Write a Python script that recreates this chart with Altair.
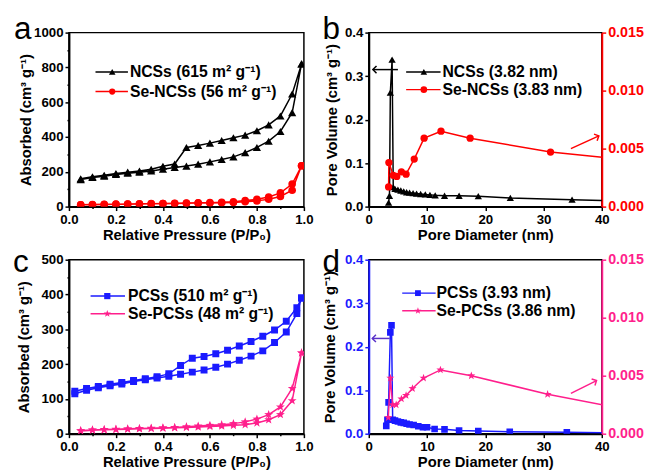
import altair as alt
import pandas as pd

FONT = "Liberation Sans"
BLACK = "#000000"
RED = "#ff0000"
BLUE = "#1a1aff"
PINK = "#ff1f8c"
PURPLE = "#5a32c8"
STAR = "M0,-1L0.235,-0.324L0.951,-0.309L0.38,0.124L0.588,0.809L0,0.4L-0.588,0.809L-0.38,0.124L-0.951,-0.309L-0.235,-0.324Z"
LEFT_HEAD = "M1,-1L0,0L1,1"
RIGHT_HEAD = "M-1,-1L0,0L-1,1"

# ---------------- panel a : N2 isotherms ----------------
P_A = [0.05, 0.10, 0.15, 0.20, 0.25, 0.30, 0.35, 0.40, 0.45, 0.50,
       0.55, 0.60, 0.65, 0.70, 0.75, 0.80, 0.85, 0.90, 0.95, 0.99]
NCS_ADS = [155, 167, 175, 185, 192, 198, 205, 215, 225, 233,
           244, 257, 271, 286, 310, 340, 376, 432, 540, 820]
NCS_DES = [160, 172, 180, 190, 198, 205, 215, 232, 245, 340,
           351, 365, 380, 396, 411, 436, 470, 521, 647, 820]
SE_NCS_ADS = [10, 11, 12, 13, 14, 15, 16, 17, 18, 19,
              20, 21, 22, 24, 28, 33, 42, 58, 94, 235]
SE_NCS_DES = [11, 12, 13, 14, 15, 16, 17, 18, 19, 21,
              22, 23, 25, 28, 35, 42, 55, 79, 130, 235]

# ---------------- panel c : N2 isotherms ----------------
P_C = [0.025, 0.075, 0.125, 0.175, 0.225, 0.275, 0.325, 0.375, 0.425, 0.475,
       0.525, 0.575, 0.625, 0.675, 0.725, 0.775, 0.825, 0.875, 0.925, 0.97, 0.99]
PCS_ADS = [115, 125, 132, 138, 143, 150, 155, 160, 165, 171,
           177, 183, 191, 200, 211, 223, 238, 262, 292, 345, 390]
PCS_DES = [122, 130, 136, 142, 147, 153, 158, 164, 172, 196,
           217, 222, 230, 240, 252, 265, 280, 298, 323, 362, 390]
SE_PCS_ADS = [8, 10, 11, 12, 13, 14, 15, 16, 17, 18,
              19, 21, 22, 24, 26, 31, 40, 55, 95, 232]
SE_PCS_DES = [9, 11, 12, 13, 14, 15, 16, 17, 18, 20,
              22, 24, 26, 29, 34, 42, 55, 77, 130, 232]

# ---------------- panel b : pore size distribution ----------------
D_NCS = [3.4, 3.55, 3.7, 4.0, 4.2, 4.5, 5.0, 5.5, 6.0, 6.5, 7.0, 7.6, 8.2, 8.9,
         9.7, 10.5, 11.4, 13.0, 15.5, 18.8, 24.3, 34.9, 45.0]
V_NCS = [0.009, 0.025, 0.262, 0.338, 0.045, 0.041, 0.039, 0.037, 0.035, 0.033,
         0.032, 0.031, 0.030, 0.029, 0.028, 0.027, 0.026, 0.025, 0.025, 0.024,
         0.020, 0.016, 0.012]
D_SE_NCS = [3.4, 3.45, 4.2, 4.8, 5.6, 6.4, 7.8, 9.5, 12.4, 17.4, 31.2, 45.0]
V_SE_NCS = [0.0017, 0.0038, 0.0027, 0.0026, 0.0030, 0.0028, 0.0041, 0.0059,
            0.0065, 0.0059, 0.0047, 0.0040]

# ---------------- panel d : pore size distribution ----------------
D_PCS = [3.0, 3.2, 3.4, 3.7, 3.9, 4.1, 4.5, 5.0, 5.5, 6.0, 6.5, 7.0, 7.7, 8.5,
         9.3, 10.0, 11.3, 13.0, 15.5, 18.8, 24.2, 34.0, 45.0]
V_PCS = [0.018, 0.032, 0.072, 0.233, 0.249, 0.032, 0.030, 0.028, 0.026, 0.025,
         0.023, 0.021, 0.020, 0.017, 0.015, 0.015, 0.011, 0.010, 0.0075, 0.006,
         0.0045, 0.0035, 0.0015]
D_SE_PCS = [3.35, 3.7, 4.1, 4.7, 5.6, 6.4, 7.5, 9.4, 12.3, 17.6, 30.7, 45.0]
V_SE_PCS = [0.0014, 0.0048, 0.0025, 0.0025, 0.0030, 0.0033, 0.0039, 0.0048,
            0.0055, 0.0050, 0.0034, 0.0020]

# annotation arrows (data units)
ARROW_B_LEFT = {"x": 0.7, "x2": 5.0, "y": 0.315}
ARROW_B_RIGHT = {"x": 34.7, "y": 0.0050, "x2": 39.5, "y2": 0.0061}
ARROW_D_LEFT = {"x": 0.6, "x2": 3.6, "y": 0.219}
ARROW_D_RIGHT = {"x": 34.7, "y": 0.00347, "x2": 39.1, "y2": 0.00458}

ONE = pd.DataFrame({"k": [0]})
W_L, W_R, H = 239, 237, 177


def loop_df(p, ads, des):
    rows = []
    n = len(p)
    for i, (x, y) in enumerate(zip(p, ads)):
        rows.append({"x": x, "y": y, "o": i})
    for j, (x, y) in enumerate(zip(reversed(p), reversed(des))):
        rows.append({"x": x, "y": y, "o": n + j})
    return pd.DataFrame(rows)


def seq_df(d, v):
    return pd.DataFrame({"x": d, "y": v, "o": list(range(len(d)))})


def tick_cond(test):
    return {"condition": {"test": test, "value": 4}, "value": 2}


def lin_axis(values, fmt, test, title, color=BLACK, **kw):
    return alt.Axis(values=values, format=fmt,
                    labelExpr=f"({test}) ? datum.label : ''",
                    tickSize=tick_cond(test), labelOverlap=False, labelFlush=False,
                    title=title, domainColor=color, tickColor=color, labelColor=color,
                    **kw)


def series(df, xs, ys, color, shape, size):
    base = alt.Chart(df).encode(x=xs, y=ys, order="o:Q")
    line = base.mark_line(color=color, strokeWidth=1.5, clip=True)
    pts = base.mark_point(shape=shape, filled=True, size=size, color=color,
                          opacity=1, clip=True)
    return [line, pts]


def letter(ch, dx, dy):
    return alt.Chart(ONE).mark_text(text=ch, font=FONT, fontSize=32, align="left",
                                    baseline="alphabetic", color=BLACK).encode(
        x=alt.value(dx), y=alt.value(dy))


def legend(rows, x0, x1, xm, xt):
    out = []
    for label, yy, color, shape, size in rows:
        out.append(alt.Chart(ONE).mark_rule(color=color, strokeWidth=1.5).encode(
            x=alt.value(x0), x2=alt.value(x1), y=alt.value(yy)))
        out.append(alt.Chart(ONE).mark_point(shape=shape, filled=True, size=size,
                                             color=color, opacity=1).encode(
            x=alt.value(xm), y=alt.value(yy)))
        out.append(alt.Chart(ONE).mark_text(text=label, font=FONT, fontSize=16,
                                            fontWeight="bold", align="left",
                                            baseline="middle", color=BLACK).encode(
            x=alt.value(xt), y=alt.value(yy)))
    return out


def arrow(a, color, head, angle=0, diagonal=False):
    df = pd.DataFrame([a])
    if diagonal:
        rule = alt.Chart(df).mark_rule(color=color, strokeWidth=1.5).encode(
            x="x:Q", x2="x2:Q", y="y:Q", y2="y2:Q")
        hd = alt.Chart(df).mark_point(shape=head, filled=False, size=55, color=color,
                                      strokeWidth=1.5, opacity=1, angle=angle).encode(
            x="x2:Q", y="y2:Q")
    else:
        rule = alt.Chart(df).mark_rule(color=color, strokeWidth=1.5).encode(
            x="x:Q", x2="x2:Q", y="y:Q")
        hd = alt.Chart(df).mark_point(shape=head, filled=False, size=55, color=color,
                                      strokeWidth=1.5, opacity=1).encode(
            x="x:Q", y="y:Q")
    return [rule, hd]


def x_iso():
    return alt.X("x:Q", scale=alt.Scale(domain=[0, 1], nice=False),
                 axis=lin_axis([i / 10 for i in range(11)], ".1f",
                               "round(datum.value*10)%2===0",
                               "Relative Pressure (P/P\u2080)", titlePadding=2))


def panel_iso(p, a1, d1, a2, d2, ymax, ystep, ymajor, c1, s1, z1, c2, s2, z2,
              legend_rows, lx, letter_ch, letter_pos, title_x, width):
    y = alt.Y("y:Q", scale=alt.Scale(domain=[0, ymax], nice=False),
              axis=lin_axis(list(range(0, ymax + 1, ystep)), "d",
                            f"datum.value%{ymajor}===0",
                            "Absorbed (cm\u00b3 g\u207b\u00b9)",
                            titleX=title_x, titleY=H / 2, titleAngle=270,
                            titleBaseline="middle", titleAlign="center"))
    layers = []
    layers += series(loop_df(p[0], a1, d1), x_iso(), y, c1, s1, z1)
    layers += series(loop_df(p[1], a2, d2), x_iso(), y, c2, s2, z2)
    layers += legend(legend_rows, *lx)
    layers.append(letter(letter_ch, *letter_pos))
    return alt.layer(*layers).properties(width=width, height=H)


panel_a = panel_iso((P_A, P_A), NCS_ADS, NCS_DES, SE_NCS_ADS, SE_NCS_DES,
                    1000, 100, 200, BLACK, "triangle-up", 70, RED, "circle", 60,
                    [("NCSs (615 m\u00b2 g\u207b\u00b9)", 40, BLACK, "triangle-up", 45),
                     ("Se-NCSs (56 m\u00b2 g\u207b\u00b9)", 60, RED, "circle", 40)],
                    (27, 60, 44, 62), "a", (-56, 7), -44, W_L)

panel_c = panel_iso((P_C, P_A), PCS_ADS, PCS_DES, SE_PCS_ADS, SE_PCS_DES,
                    500, 50, 100, BLUE, "square", 50, PINK, STAR, 90,
                    [("PCSs (510 m\u00b2 g\u207b\u00b9)", 37, BLUE, "square", 40),
                     ("Se-PCSs (48 m\u00b2 g\u207b\u00b9)", 55, PINK, STAR, 60)],
                    (22, 57, 39, 60), "c", (-57, 12), -46, W_L)


def panel_psd(d1, v1, d2, v2, lcol, rcol, c1, s1, z1, c2, s2, z2,
              arrL, arrR, arrL_col, angle, legend_rows, lx, letter_ch, letter_pos,
              title_x, width):
    x = alt.X("x:Q", scale=alt.Scale(domain=[0, 40], nice=False),
              axis=lin_axis(list(range(0, 41, 5)), "d", "datum.value%10===0",
                            "Pore Diameter (nm)", titlePadding=2))
    yl = alt.Y("y:Q", scale=alt.Scale(domain=[0, 0.4], nice=False),
               axis=lin_axis([i * 0.05 for i in range(9)], ".1f",
                             "round(datum.value*20)%2===0",
                             "Pore Volume (cm\u00b3 g\u207b\u00b9)", color=lcol,
                             titleX=title_x, titleY=H / 2, titleAngle=270,
                             titleBaseline="middle", titleAlign="center"))
    yr = alt.Y("y:Q", scale=alt.Scale(domain=[0, 0.015], nice=False),
               axis=lin_axis([i * 0.0025 for i in range(7)], ".3f",
                             "round(datum.value*400)%2===0", None, color=rcol,
                             orient="right", labelFontSize=14.5))
    left = series(seq_df(d1, v1), x, yl, c1, s1, z1)
    left += arrow(arrL, arrL_col, LEFT_HEAD)
    left += legend(legend_rows, *lx)
    left.append(letter(letter_ch, *letter_pos))
    right = series(seq_df(d2, v2), x, yr, c2, s2, z2)
    right += arrow(arrR, c2, RIGHT_HEAD, angle, True)
    return alt.layer(alt.layer(*left), alt.layer(*right)).resolve_scale(
        y="independent").properties(width=width, height=H)


panel_b = panel_psd(D_NCS, V_NCS, D_SE_NCS, V_SE_NCS, BLACK, RED,
                    BLACK, "triangle-up", 55, RED, "circle", 55,
                    ARROW_B_LEFT, ARROW_B_RIGHT, BLACK, 335,
                    [("NCSs (3.82 nm)", 40, BLACK, "triangle-up", 45),
                     ("Se-NCSs (3.83 nm)", 58, RED, "circle", 45)],
                    (38, 73, 56, 75), "b", (-47, 7), -38, W_R)

panel_d = panel_psd(D_PCS, V_PCS, D_SE_PCS, V_SE_PCS, BLUE, PINK,
                    BLUE, "square", 45, PINK, STAR, 75,
                    ARROW_D_LEFT, ARROW_D_RIGHT, PURPLE, 333,
                    [("PCSs (3.93 nm)", 34, BLUE, "square", 35),
                     ("Se-PCSs (3.86 nm)", 52, PINK, STAR, 55)],
                    (34, 68, 50, 69), "d", (-47, 13), -40, W_R)

chart = alt.concat(panel_a, panel_b, panel_c, panel_d, columns=2,
                   spacing={"row": 54, "column": 66}, bounds="flush").configure(
    padding={"left": 4, "top": 1, "right": 2, "bottom": 2}, background="white"
).configure_view(stroke=BLACK, strokeWidth=1.5).configure_axis(
    labelFont=FONT, labelFontSize=13.5, labelFontWeight="bold",
    titleFont=FONT, titleFontSize=15, titleFontWeight="bold", titleColor=BLACK,
    domainWidth=2, tickWidth=1.5, grid=False, labelPadding=2
)

chart.save("out.html", embed_options={"renderer": "svg", "actions": False})
